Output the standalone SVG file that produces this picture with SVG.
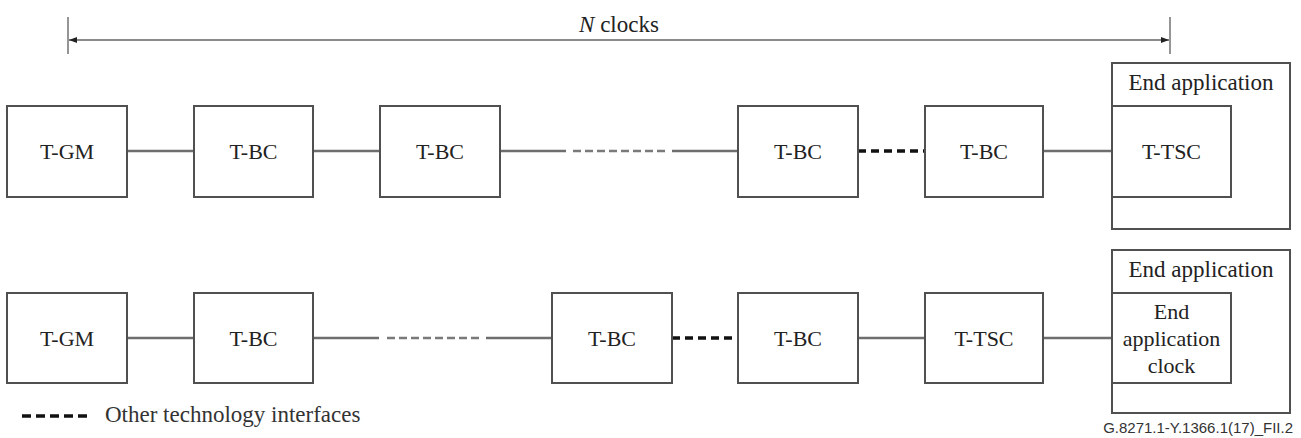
<svg xmlns="http://www.w3.org/2000/svg" width="1301" height="438" viewBox="0 0 1301 438">
<style>
.box{fill:#fff;stroke:#505050;stroke-width:2}
.lbl{font-family:"Liberation Serif","Times New Roman",serif;font-size:22px;fill:#222;text-anchor:middle}
.ln{stroke:#6e6e6e;stroke-width:2.5;fill:none}
.gd{stroke:#7a7a7a;stroke-width:2.5;fill:none;stroke-dasharray:8 4}
.bd{stroke:#111;stroke-width:3.5;fill:none;stroke-dasharray:8 5}
.dim{stroke:#8a8a8a;stroke-width:1.8;fill:none}
</style>
<defs>
<marker id="ah" viewBox="0 0 8 6" refX="8" refY="3" markerWidth="8" markerHeight="6" markerUnits="userSpaceOnUse" orient="auto-start-reverse">
<path d="M0,0 L8,3 L0,6 z" fill="#222"/>
</marker>
</defs>
<g id="dimension">
<line class="dim" x1="68" y1="17" x2="68" y2="54"/>
<line class="dim" x1="1170" y1="17" x2="1170" y2="54"/>
<line class="dim" x1="69" y1="40" x2="1169" y2="40" marker-start="url(#ah)" marker-end="url(#ah)"/>
<text x="619" y="32" class="lbl" style="font-size:23px"><tspan font-style="italic">N</tspan> clocks</text>
</g>
<g id="connectors">
<line class="ln" x1="127" y1="151" x2="194" y2="151"/>
<line class="ln" x1="313" y1="151" x2="380" y2="151"/>
<line class="ln" x1="500" y1="151" x2="566" y2="151"/>
<line class="gd" x1="573" y1="151" x2="665" y2="151"/>
<line class="ln" x1="672" y1="151" x2="738" y2="151"/>
<line class="bd" x1="858" y1="151" x2="925" y2="151"/>
<line class="ln" x1="1043" y1="151" x2="1112" y2="151"/>
<line class="ln" x1="127" y1="338" x2="194" y2="338"/>
<line class="ln" x1="313" y1="338" x2="379" y2="338"/>
<line class="gd" x1="387" y1="338" x2="479" y2="338"/>
<line class="ln" x1="486" y1="338" x2="552" y2="338"/>
<line class="bd" x1="672" y1="338" x2="738" y2="338"/>
<line class="ln" x1="858" y1="338" x2="925" y2="338"/>
<line class="ln" x1="1043" y1="338" x2="1112" y2="338"/>
</g>
<g id="r1-tgm"><rect class="box" x="7" y="106" width="120" height="91"/><text class="lbl" x="67" y="159">T-GM</text></g>
<g id="r1-tbc1"><rect class="box" x="194" y="106" width="119" height="91"/><text class="lbl" x="253.5" y="159">T-BC</text></g>
<g id="r1-tbc2"><rect class="box" x="380" y="106" width="120" height="91"/><text class="lbl" x="440" y="159">T-BC</text></g>
<g id="r1-tbc3"><rect class="box" x="738" y="106" width="120" height="91"/><text class="lbl" x="798" y="159">T-BC</text></g>
<g id="r1-tbc4"><rect class="box" x="925" y="106" width="118" height="91"/><text class="lbl" x="984" y="159">T-BC</text></g>
<g id="r1-endapp"><rect class="box" x="1112" y="63" width="178" height="166"/><text class="lbl" x="1201" y="90" style="font-size:23px">End application</text></g>
<g id="r1-ttsc"><rect class="box" x="1112" y="106" width="119" height="91"/><text class="lbl" x="1171.5" y="159">T-TSC</text></g>
<g id="r2-tgm"><rect class="box" x="7" y="293" width="120" height="90"/><text class="lbl" x="67" y="345.5">T-GM</text></g>
<g id="r2-tbc1"><rect class="box" x="194" y="293" width="119" height="90"/><text class="lbl" x="253.5" y="345.5">T-BC</text></g>
<g id="r2-tbc2"><rect class="box" x="552" y="293" width="120" height="90"/><text class="lbl" x="612" y="345.5">T-BC</text></g>
<g id="r2-tbc3"><rect class="box" x="738" y="293" width="120" height="90"/><text class="lbl" x="798" y="345.5">T-BC</text></g>
<g id="r2-ttsc"><rect class="box" x="925" y="293" width="118" height="90"/><text class="lbl" x="984" y="345.5">T-TSC</text></g>
<g id="r2-endapp"><rect class="box" x="1112" y="250" width="178" height="163"/><text class="lbl" x="1201" y="277" style="font-size:23px">End application</text></g>
<g id="r2-eaclock"><rect class="box" x="1112" y="293" width="119" height="90"/><text class="lbl" x="1171.5" y="318.5">End</text><text class="lbl" x="1171.5" y="345.5">application</text><text class="lbl" x="1171.5" y="372.5">clock</text></g>
<g id="legend">
<line class="bd" x1="22" y1="416" x2="90" y2="416" style="stroke-dasharray:9 5"/>
<text x="105" y="422" style="font-family:'Liberation Serif','Times New Roman',serif;font-size:23px;fill:#333">Other technology interfaces</text>
</g>
<text x="1293" y="433" style="font-family:'Liberation Sans',Arial,sans-serif;font-size:15px;fill:#333;text-anchor:end">G.8271.1-Y.1366.1(17)_FII.2</text>
</svg>
